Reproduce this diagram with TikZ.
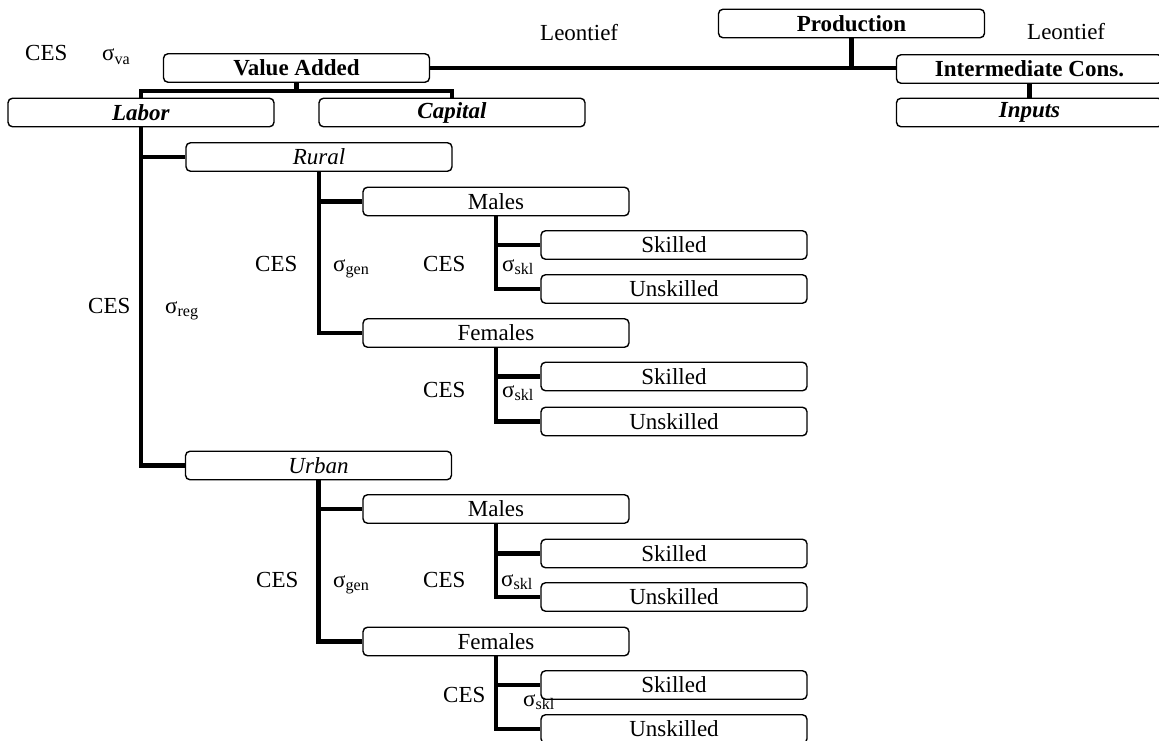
\documentclass[tikz,border=0pt]{standalone}
\usepackage{fontspec}
\setmainfont{Liberation Serif}
\begin{document}
\begin{tikzpicture}[x=1pt,y=-1pt,
  every node/.style={font=\fontsize{23}{27}\selectfont},
  nbox/.style={draw, line width=1.4pt, rounded corners=4.5pt, minimum width=266pt, minimum height=28.5pt, inner sep=0pt},
  conn/.style={line width=4.8pt, line join=miter},
  lbl/.style={anchor=base west, inner sep=0pt}
]
\useasboundingbox (0,0) rectangle (1159,741);
\clip (0,0) rectangle (1159,741);
% boxes
\node[nbox] (prod) at (851.5,23.5) {\textbf{Production}};
\node[nbox] (va) at (296.5,68) {\textbf{Value Added}};
\node[nbox] (ic) at (1029.5,69) {\textbf{Intermediate Cons.}};
\node[nbox] (inp) at (1029.5,112.5) {\textbf{\textit{Inputs}}};
\node[nbox] (labor) at (141,112.5) {\textbf{\textit{Labor}}};
\node[nbox] (capital) at (452,112.5) {\textbf{\textit{Capital}}};
\node[nbox] (rural) at (319,157) {\textit{Rural}};
\node[nbox] (males1) at (496,201.5) {Males};
\node[nbox] (sk1) at (674,245) {Skilled};
\node[nbox] (us1) at (674,289) {Unskilled};
\node[nbox] (fem1) at (496,333) {Females};
\node[nbox] (sk2) at (674,376.5) {Skilled};
\node[nbox] (us2) at (674,421.5) {Unskilled};
\node[nbox] (urban) at (318.5,465.5) {\textit{Urban}};
\node[nbox] (males2) at (496,509) {Males};
\node[nbox] (sk3) at (674,553.5) {Skilled};
\node[nbox] (us3) at (674,597) {Unskilled};
\node[nbox] (fem2) at (496,641.5) {Females};
\node[nbox] (sk4) at (674,685) {Skilled};
\node[nbox] (us4) at (674,729) {Unskilled};
% connectors
\coordinate (vaj) at (0,91);
\draw[conn] (va.east) -- (va.east -| ic.west);
\draw[conn] (prod.south) -- (prod.south |- va.east);
\draw[conn] (va.south) -- (va.south |- vaj);
\draw[conn] (labor.north) -- (labor.north |- vaj) -- (capital.north |- vaj) -- (capital.north);
\draw[conn] (ic.south) -- (inp.north);
\draw[conn] (labor.south) |- (urban.west);
\draw[conn] (labor.south |- rural.west) -- (rural.west);
\draw[conn] (rural.south) |- (fem1.west);
\draw[conn] (rural.south |- males1.west) -- (males1.west);
\draw[conn] (males1.south) |- (us1.west);
\draw[conn] (males1.south |- sk1.west) -- (sk1.west);
\draw[conn] (fem1.south) |- (us2.west);
\draw[conn] (fem1.south |- sk2.west) -- (sk2.west);
\draw[conn] (urban.south) |- (fem2.west);
\draw[conn] (urban.south |- males2.west) -- (males2.west);
\draw[conn] (males2.south) |- (us3.west);
\draw[conn] (males2.south |- sk3.west) -- (sk3.west);
\draw[conn] (fem2.south) |- (us4.west);
\draw[conn] (fem2.south |- sk4.west) -- (sk4.west);
% labels
\node[lbl] (ces0) at (25,61) {CES};
\node[lbl] (sva) at (102,61) {σ\textsubscript{va}};
\node[lbl] (leon1) at (540,41) {Leontief};
\node[lbl] (leon2) at (1027,40) {Leontief};
\node[lbl] (cesreg) at (88,313) {CES};
\node[lbl] (sreg) at (165,313) {σ\textsubscript{reg}};
\node[lbl] (cesgen1) at (255,271) {CES};
\node[lbl] (sgen1) at (333,271) {σ\textsubscript{gen}};
\node[lbl] (cesskl1) at (423,271) {CES};
\node[lbl] (sskl1) at (502,271) {σ\textsubscript{skl}};
\node[lbl] (cesskl2) at (423,397) {CES};
\node[lbl] (sskl2) at (502,397) {σ\textsubscript{skl}};
\node[lbl] (cesgen2) at (256,587) {CES};
\node[lbl] (sgen2) at (333,587) {σ\textsubscript{gen}};
\node[lbl] (cesskl3) at (423,587) {CES};
\node[lbl] (sskl3) at (501,586) {σ\textsubscript{skl}};
\node[lbl] (cesskl4) at (443,702) {CES};
\node[lbl] (sskl4) at (523,706) {σ\textsubscript{skl}};
\end{tikzpicture}
\end{document}
